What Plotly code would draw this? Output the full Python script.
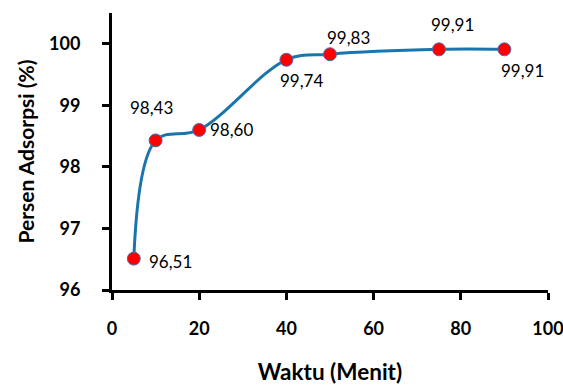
import plotly.graph_objects as go

waktu = [5, 10, 20, 40, 50, 75, 90]
persen = [96.51, 98.43, 98.60, 99.74, 99.83, 99.91, 99.91]
labels = ["96,51", "98,43", "98,60", "99,74", "99,83", "99,91", "99,91"]
x_ticks = [0, 20, 40, 60, 80, 100]
y_ticks = [96, 97, 98, 99, 100]

# label offsets in pixels (style only)
shifts = [(37, -3), (-4, 33), (32, 0), (15, -21), (18, 17), (13, 25), (18, -21)]

FONT = "Lato"

fig = go.Figure()
fig.add_trace(go.Scatter(
    x=waktu, y=persen, mode="lines+markers",
    line=dict(color="#1b75ad", width=3, shape="spline", smoothing=1.0),
    marker=dict(color="#ff0000", size=13, line=dict(color="#4a6fb5", width=1)),
    showlegend=False, hoverinfo="skip",
))

for xv, yv, lab, (dx, dy) in zip(waktu, persen, labels, shifts):
    fig.add_annotation(x=xv, y=yv, xref="x", yref="y", text=lab, showarrow=False,
                       xshift=dx, yshift=dy,
                       font=dict(family=FONT, size=17, color="black"))

fig.update_layout(
    width=563, height=385,
    margin=dict(l=112, r=15, t=13, b=95),
    paper_bgcolor="white", plot_bgcolor="white",
    font=dict(family=FONT, color="black"),
)
fig.update_xaxes(
    range=[0, 100], tickvals=x_ticks, ticktext=[str(v) for v in x_ticks],
    automargin=False, ticklabeloverflow="allow",
    showgrid=False, zeroline=False, showline=True, linecolor="black", linewidth=3,
    ticks="outside", ticklen=7, tickwidth=3, tickcolor="black",
    tickfont=dict(family=FONT, size=18, color="black", weight="bold"),
    ticklabelstandoff=13,
    title=dict(text="<b>Waktu (Menit)</b>", font=dict(family=FONT, size=22.5, color="black"), standoff=28),
)
fig.update_yaxes(
    range=[96, 100.5], tickvals=y_ticks, ticktext=[str(v) for v in y_ticks],
    automargin=False, ticklabeloverflow="allow",
    showgrid=False, zeroline=False, showline=True, linecolor="black", linewidth=3,
    ticks="outside", ticklen=7, tickwidth=3, tickcolor="black",
    tickfont=dict(family=FONT, size=18, color="black", weight="bold"),
    ticklabelstandoff=18,
    title=dict(text="<b>Persen Adsorpsi (%)</b>", font=dict(family=FONT, size=21, color="black"), standoff=9),
)

fig.write_html("out.html", config={"displayModeBar": False},
               post_script="document.body.style.margin='0';")
